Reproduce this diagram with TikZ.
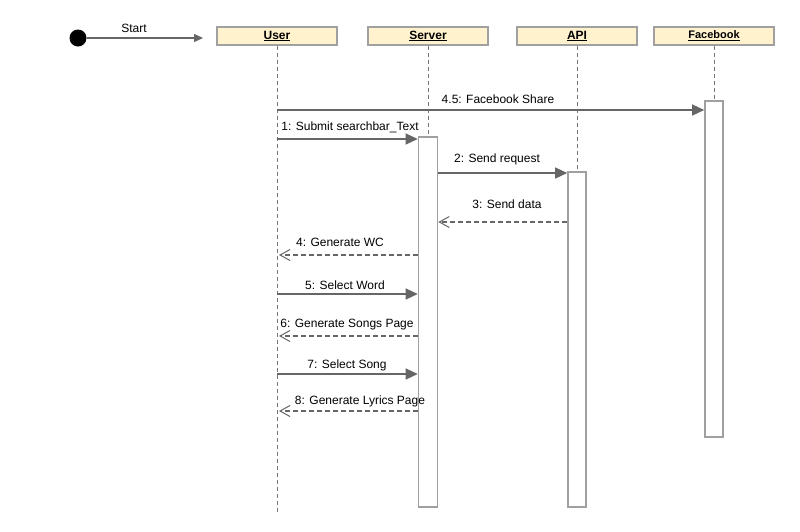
\documentclass[tikz,border=0pt]{standalone}
\usepackage{fontspec}
\setmainfont{Liberation Sans}
\usetikzlibrary{arrows.meta}
\definecolor{hdrfill}{RGB}{255,242,204}
\definecolor{hdrdraw}{RGB}{160,160,160}
\definecolor{msgcol}{RGB}{102,102,102}
\definecolor{actdraw}{RGB}{160,160,160}
\begin{document}
\begin{tikzpicture}[x=1pt,y=-1pt,
  hdr/.style={draw=hdrdraw,line width=1.4pt,fill=hdrfill,minimum width=120pt,minimum height=18pt,inner sep=0pt,font=\fontsize{12}{14}\selectfont\bfseries},
  lifeline/.style={draw=msgcol!90,dashed,dash pattern=on 4pt off 3pt,line width=1pt},
  act/.style={draw=actdraw,line width=1.6pt,fill=white,inner sep=0pt},
  sync/.style={draw=msgcol,line width=1.3pt,-{Triangle[length=12pt,width=11pt]}},
  reply/.style={draw=msgcol,line width=1.1pt,dashed,dash pattern=on 5pt off 3pt,-{Straight Barb[length=10pt,width=11pt,line width=1pt]}},
  lbl/.style={font=\fontsize{12}{14}\selectfont,inner sep=0pt,text=black}]
\useasboundingbox (0,0) rectangle (800,531);
% start
\node[circle,fill=black,minimum size=17pt,inner sep=0pt] (start) at (78,38) {};
\coordinate (startend) at (203,38);
\draw[line width=1.3pt,draw=msgcol,-{Triangle[length=9pt,width=8pt]}] (start) -- (startend);
\node[lbl] (startlbl) at (134,28) {Start};
% headers
\node[hdr] (user) at (277,36) {\underline{User}};
\node[hdr] (server) at (428,36) {\underline{Server}};
\node[hdr] (api) at (577,36) {\underline{API}};
\node[hdr,font=\fontsize{11}{13}\selectfont\bfseries] (fb) at (714,36) {\underline{Facebook}};
% activation boxes
\node[act,minimum width=19pt,minimum height=370pt] (sact) at (428,322) {};
\node[act,minimum width=18pt,minimum height=335pt] (aact) at (577,339.5) {};
\node[act,minimum width=18pt,minimum height=336pt] (fact) at (714,269) {};
% lifelines
\coordinate (userend) at (277,512);
\draw[lifeline] (user.south) -- (userend);
\draw[lifeline] (server.south) -- (sact.north);
\draw[lifeline] (api.south) -- (aact.north);
\draw[lifeline] (fb.south) -- (fact.north);
% messages
\draw[sync] (277,110) -- (fact.west |- 0,110);
\node[lbl] (m45) at (498,99) {4.5: Facebook Share};
\draw[sync] (277,139) -- (sact.west |- 0,139);
\node[lbl] (m1) at (350,127) {1: Submit searchbar\_Text};
\draw[sync] (sact.east |- 0,173) -- (aact.west |- 0,173);
\node[lbl] (m2) at (497,159) {2: Send request};
\draw[reply] (aact.west |- 0,222) -- (sact.east |- 0,222);
\node[lbl] (m3) at (507,204) {3: Send data};
\draw[reply] (sact.west |- 0,255) -- (279,255);
\node[lbl] (m4) at (340,242) {4: Generate WC};
\draw[sync] (277,294) -- (sact.west |- 0,294);
\node[lbl] (m5) at (345,285) {5: Select Word};
\draw[reply] (sact.west |- 0,336) -- (279,336);
\node[lbl] (m6) at (347,325) {6: Generate Songs Page};
\draw[sync] (277,374) -- (sact.west |- 0,374);
\node[lbl] (m7) at (347,365) {7: Select Song};
\draw[reply] (sact.west |- 0,411) -- (279,411);
\node[lbl] (m8) at (360,401) {8: Generate Lyrics Page};
\end{tikzpicture}
\end{document}
